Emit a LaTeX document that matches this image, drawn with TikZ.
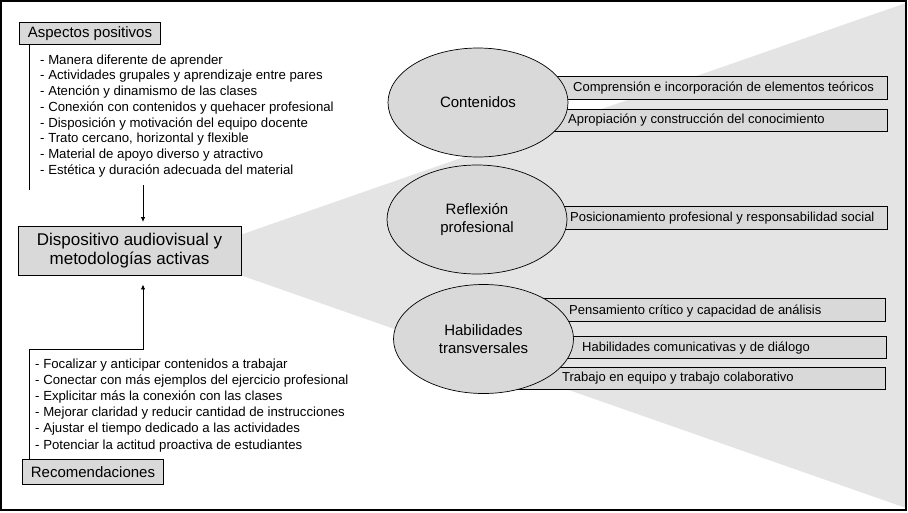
\documentclass[tikz,border=0pt]{standalone}
\usepackage{fontspec}
\setmainfont{Liberation Sans}
\usetikzlibrary{shapes.geometric,arrows.meta}
\definecolor{boxgray}{HTML}{D9D9D9}
\definecolor{trigray}{HTML}{E4E4E4}
\begin{document}
\begin{tikzpicture}[x=1pt,y=-1pt,
  hdr/.style={draw=black, fill=boxgray, line width=0.9pt, inner sep=0pt, font=\fontsize{15}{18}\selectfont},
  listtxt/.style={inner sep=0pt, font=\fontsize{13.2}{15}\selectfont},
  ell/.style={ellipse, draw=black, fill=boxgray, line width=0.7pt, inner sep=0pt, minimum width=180, minimum height=109, align=center, font=\fontsize{15}{18}\selectfont},
  rbox/.style={draw=black, fill=boxgray, line width=0.9pt, inner sep=0pt, anchor=north west, minimum height=22.5},
  rtxt/.style={inner sep=0pt, anchor=base west, font=\fontsize{13}{15}\selectfont},
  ln/.style={draw=black, line width=0.9pt},
  arr/.style={ln, -{Latex[length=5pt,width=4.5pt]}}]
\useasboundingbox (0,0) rectangle (908,512);
% background wedge
\fill[trigray] (240,235) -- (906,3) -- (906,508) -- (240,275) -- cycle;
% frame
\draw[line width=1.4pt] (1,1) rectangle (906,510);
% left boxes
\node[hdr, minimum width=141, minimum height=22, anchor=north west] (asp) at (19,22) {Aspectos positivos};
\node[hdr, font=\fontsize{17}{19.5}\selectfont, align=center, minimum width=223, minimum height=49] (dev) at (129.5,250.5) {Dispositivo audiovisual y\\metodologías activas};
\node[hdr, minimum width=141, minimum height=25, anchor=north west] (rec) at (22,459) {Recomendaciones};
% lists
\foreach \t [count=\i] in {{- Manera diferente de aprender},{- Actividades grupales y aprendizaje entre pares},{- Atención y dinamismo de las clases},{- Conexión con contenidos y quehacer profesional},{- Disposición y motivación del equipo docente},{- Trato cercano, horizontal y flexible},{- Material de apoyo diverso y atractivo},{- Estética y duración adecuada del material}}
  \node[listtxt, anchor=base west] (pos\i) at (40,{64+(\i-1)*15.75}) {\t};
\foreach \t [count=\i] in {{- Focalizar y anticipar contenidos a trabajar},{- Conectar con más ejemplos del ejercicio profesional},{- Explicitar más la conexión con las clases},{- Mejorar claridad y reducir cantidad de instrucciones},{- Ajustar el tiempo dedicado a las actividades},{- Potenciar la actitud proactiva de estudiantes}}
  \node[listtxt, anchor=base west] (rc\i) at (35,{368+(\i-1)*16.2}) {\t};
% connectors
\coordinate (a1) at (143,185);
\coordinate (bend) at (29,190);
\coordinate (corner) at (29,349);
\draw[ln] (asp.south -| bend) -- (bend);
\draw[arr, shorten >=3.5pt] (a1) -- (dev.north -| a1);
\draw[arr, shorten >=9pt] (rec.north -| corner) -- (corner) -| (dev.south -| a1);
% right boxes
\node[rbox, minimum width=407] (b1) at (480,76) {};
\node[rbox, minimum width=407] (b2) at (480,108.5) {};
\node[rbox, minimum width=407] (b3) at (480,206) {};
\node[rbox, minimum width=405] (b4) at (480,298) {};
\node[rbox, minimum width=406] (b5) at (480,335.5) {};
\node[rbox, minimum width=405] (b6) at (480,366.5) {};
% ellipses
\node[ell] (cont) at (478,102.5) {Contenidos};
\node[ell] (refl) at (477,219.5) {Reflexión\\profesional};
\node[ell] (hab) at (483.5,339) {Habilidades\\transversales};
% box texts
\node[rtxt] (t1) at (573,91.5) {Comprensión e incorporación de elementos teóricos};
\node[rtxt] (t2) at (568,123.5) {Apropiación y construcción del conocimiento};
\node[rtxt] (t3) at (570,221) {Posicionamiento profesional y responsabilidad social};
\node[rtxt] (t4) at (569,314) {Pensamiento crítico y capacidad de análisis};
\node[rtxt] (t5) at (582,351) {Habilidades comunicativas y de diálogo};
\node[rtxt] (t6) at (562,381.5) {Trabajo en equipo y trabajo colaborativo};
\end{tikzpicture}
\end{document}
